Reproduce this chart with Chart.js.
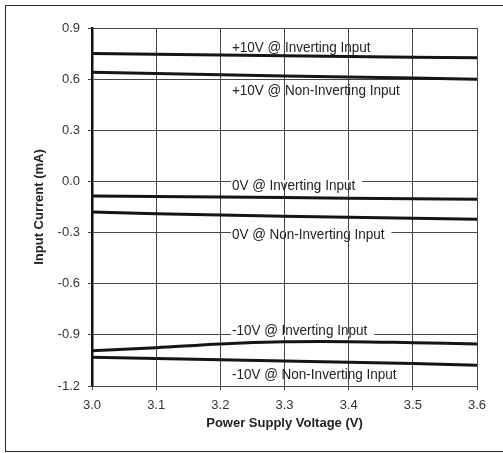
<!DOCTYPE html>
<html>
<head>
<meta charset="utf-8">
<script src="https://cdn.jsdelivr.net/npm/chart.js@4.4.0/dist/chart.umd.min.js"></script>
<style>
  html, body { margin: 0; padding: 0; background: #fff; }
  #wrap { position: relative; width: 503px; height: 453px; overflow: hidden; }
  #frame { position: absolute; left: 5px; top: 5px; width: 520px; height: 447px;
           border: 1.5px solid #2b2b2b; box-sizing: border-box; }
  canvas { position: absolute; left: 0; top: 0; }
</style>
</head>
<body>
<div id="wrap">
  <div id="frame"></div>
  <canvas id="chart" width="503" height="453"></canvas>
</div>
<script>
// supply voltage (V)
const voltages = [3.0, 3.1, 3.2, 3.3, 3.4, 3.5, 3.6];

// input current (mA)
const plus10Inv    = [0.750, 0.746, 0.741, 0.737, 0.733, 0.729, 0.725];
const plus10NonInv = [0.640, 0.633, 0.626, 0.619, 0.612, 0.606, 0.599];
const zeroInv      = [-0.085, -0.088, -0.092, -0.095, -0.098, -0.102, -0.105];
const zeroNonInv   = [-0.180, -0.189, -0.197, -0.204, -0.210, -0.216, -0.222];
const minus10Inv   = [-0.993, -0.975, -0.953, -0.941, -0.940, -0.946, -0.953];
const minus10NonInv = [-1.032, -1.039, -1.046, -1.053, -1.060, -1.068, -1.078];

const xTicks = [3.0, 3.1, 3.2, 3.3, 3.4, 3.5, 3.6];
const yTicks = [-1.2, -0.9, -0.6, -0.3, 0.0, 0.3, 0.6, 0.9];

// text on the curves: baseline at (x, y), gap = grid line to break under the text
const curveLabels = [
  { text: '+10V @ Inverting Input',      x: 3.218, y: 0.759 },
  { text: '+10V @ Non-Inverting Input',  x: 3.218, y: 0.507 },
  { text: '0V @ Inverting Input',        x: 3.218, y: -0.050, gap: 0.0 },
  { text: '0V @ Non-Inverting Input',    x: 3.218, y: -0.339, gap: -0.3 },
  { text: '-10V @ Inverting Input',      x: 3.218, y: -0.898, gap: -0.9 },
  { text: '-10V @ Non-Inverting Input',  x: 3.218, y: -1.159 }
];

const fontFamily = '"Liberation Sans", Arial, sans-serif';
const labelFont = '15px ' + fontFamily;
const squeeze = 0.9; // the labels are set in a narrow face

function toPoints(ys) {
  return voltages.map((v, i) => ({ x: v, y: ys[i] }));
}

function curve(label, ys, tension) {
  return {
    label: label,
    data: toPoints(ys),
    borderColor: '#151515',
    borderWidth: 3,
    pointRadius: 0,
    tension: tension || 0,
    fill: false
  };
}

const labelPlugin = {
  id: 'curveLabels',
  beforeDatasetsDraw(chart) {
    const ctx = chart.ctx;
    const sx = chart.scales.x, sy = chart.scales.y;
    ctx.save();
    ctx.font = labelFont;
    ctx.fillStyle = '#fff';
    curveLabels.forEach(l => {
      if (l.gap === undefined) return;
      const x = sx.getPixelForValue(l.x);
      const y = sy.getPixelForValue(l.gap);
      const w = ctx.measureText(l.text).width * squeeze;
      ctx.fillRect(x - 1, y - 1.5, w + 8, 3);
    });
    ctx.restore();
  },
  afterDraw(chart) {
    const ctx = chart.ctx;
    const sx = chart.scales.x, sy = chart.scales.y;
    ctx.save();
    ctx.font = labelFont;
    ctx.fillStyle = '#222';
    ctx.textBaseline = 'alphabetic';
    curveLabels.forEach(l => {
      const x = sx.getPixelForValue(l.x);
      const y = sy.getPixelForValue(l.y);
      ctx.save();
      ctx.translate(x, y);
      ctx.scale(squeeze, 1);
      ctx.fillText(l.text, 0, 0);
      ctx.restore();
    });
    ctx.restore();
  }
};

const ctx = document.getElementById('chart').getContext('2d');

const myChart = new Chart(ctx, {
  type: 'line',
  data: {
    datasets: [
      curve('+10V @ Inverting Input', plus10Inv),
      curve('+10V @ Non-Inverting Input', plus10NonInv),
      curve('0V @ Inverting Input', zeroInv),
      curve('0V @ Non-Inverting Input', zeroNonInv),
      curve('-10V @ Inverting Input', minus10Inv, 0.35),
      curve('-10V @ Non-Inverting Input', minus10NonInv)
    ]
  },
  options: {
    responsive: false,
    animation: false,
    layout: { padding: { top: 28, right: 26, left: 0, bottom: 0 } },
    plugins: {
      legend: { display: false },
      tooltip: { enabled: false }
    },
    scales: {
      x: {
        type: 'linear',
        min: 3.0,
        max: 3.6,
        afterFit: function(scale) { scale.height = 67; },
        afterBuildTicks: function(scale) { scale.ticks = xTicks.map(v => ({ value: v })); },
        grid: { color: '#444', lineWidth: 1, tickLength: 4 },
        border: { color: '#444', width: 1 },
        ticks: {
          color: '#333',
          padding: 8,
          font: { family: fontFamily, size: 13 },
          callback: v => v.toFixed(1)
        },
        title: {
          display: true,
          text: 'Power Supply Voltage (V)',
          color: '#222',
          font: { family: fontFamily, size: 13, weight: 'bold' },
          padding: { top: 0, bottom: 22 }
        }
      },
      y: {
        min: -1.2,
        max: 0.9,
        afterFit: function(scale) { scale.width = 92; },
        afterBuildTicks: function(scale) { scale.ticks = yTicks.map(v => ({ value: v })); },
        grid: { color: '#444', lineWidth: 1, tickLength: 4 },
        border: { color: '#111', width: 2.5 },
        ticks: {
          color: '#333',
          padding: 8,
          font: { family: fontFamily, size: 13 },
          callback: v => (Math.abs(v) < 1e-9 ? 0 : v).toFixed(1)
        },
        title: {
          display: true,
          text: 'Input Current (mA)',
          color: '#222',
          font: { family: fontFamily, size: 13, weight: 'bold' },
          padding: { top: 32, bottom: 0 }
        }
      }
    }
  },
  plugins: [labelPlugin]
});
</script>
</body>
</html>
